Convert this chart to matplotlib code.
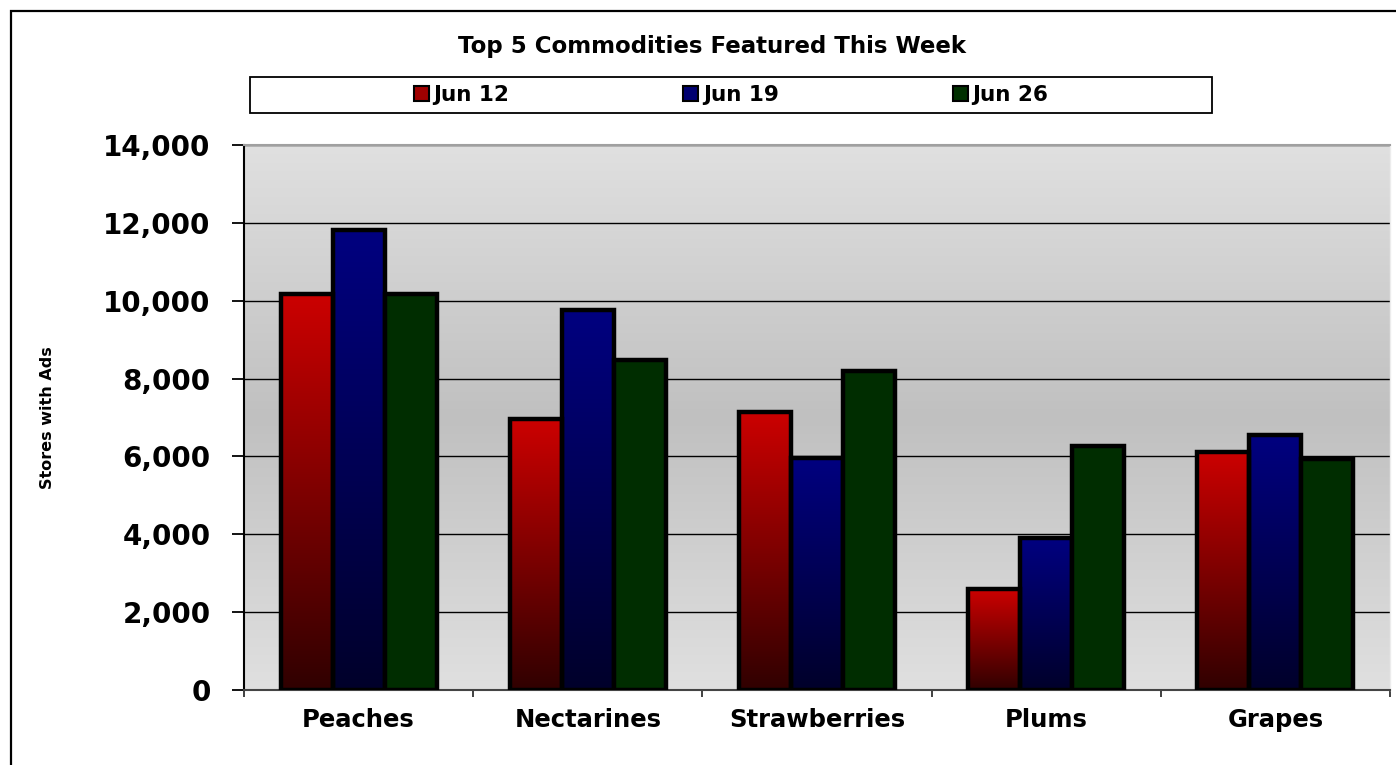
import matplotlib
matplotlib.use('Agg')
import matplotlib.pyplot as plt
import numpy as np
from matplotlib.colors import LinearSegmentedColormap
from matplotlib.patches import Rectangle, Patch

categories = ['Peaches', 'Nectarines', 'Strawberries', 'Plums', 'Grapes']
jun12 = [10170, 6960, 7140, 2590, 6110]
jun19 = [11820, 9760, 5960, 3900, 6560]
jun26 = [10170, 8480, 8200, 6270, 5930]
series_names = ['Jun 12', 'Jun 19', 'Jun 26']
yticks = [0, 2000, 4000, 6000, 8000, 10000, 12000, 14000]

W, H = 1396, 765
fig = plt.figure(figsize=(W / 100, H / 100), dpi=100)
ax = fig.add_axes([244 / W, 75 / H, 1146 / W, 545 / H])

# plot area background: light at top/bottom, darker in the middle
bg_cmap = LinearSegmentedColormap.from_list('bg', ['#e0e0e0', '#c0c0c0', '#e0e0e0'])
bg = np.linspace(0, 1, 256).reshape(-1, 1)
ax.imshow(bg, cmap=bg_cmap, extent=[0, 1, 0, 1], transform=ax.transAxes,
          aspect='auto', origin='lower', zorder=0)

x = np.arange(len(categories))
bw = 0.227


def grad_bars(xs, vals, top, bottom):
    cmap = LinearSegmentedColormap.from_list('g', [bottom, top])
    g = np.linspace(0, 1, 256).reshape(-1, 1)
    for xi, v in zip(xs, vals):
        ax.imshow(g, cmap=cmap, origin='lower', aspect='auto',
                  extent=[xi - bw / 2, xi + bw / 2, 0, v], zorder=2)
    ax.bar(xs, vals, bw, facecolor='none', edgecolor='black', lw=3.2, zorder=3)


grad_bars(x - bw, jun12, '#cc0000', '#300000')
grad_bars(x, jun19, '#000080', '#00002a')
ax.bar(x + bw, jun26, bw, facecolor='#002d00', edgecolor='black', lw=3.2, zorder=3)

ax.set_xlim(-0.5, len(categories) - 0.5)
ax.set_ylim(0, 14000)

ax.set_axisbelow(True)
ax.yaxis.grid(True, color='black', lw=1)
ax.set_yticks(yticks)
ax.set_yticklabels([f'{v:,}' for v in yticks], fontsize=20, fontweight='bold')
ax.tick_params(axis='y', direction='out', length=9, width=1.3, pad=15)

ax.set_xticks(np.arange(len(categories) + 1) - 0.5)
ax.set_xticklabels([])
ax.set_xticks(x, minor=True)
ax.set_xticklabels(categories, minor=True, fontsize=17.5, fontweight='bold')
ax.tick_params(axis='x', which='major', direction='out', length=5, width=1.3, color='#333333')
ax.tick_params(axis='x', which='minor', length=0, pad=13)

ax.spines['left'].set_color('black')
ax.spines['left'].set_linewidth(1.5)
ax.spines['bottom'].set_color('#444444')
ax.spines['bottom'].set_linewidth(1.5)
ax.spines['top'].set_color('#a0a0a0')
ax.spines['top'].set_linewidth(1.5)
ax.spines['right'].set_color('#ececec')
ax.spines['right'].set_linewidth(1.0)

fig.text(48 / W, 1 - 418 / H, 'Stores with Ads', rotation=90, ha='center', va='center',
         fontsize=11.5, fontweight='bold', family=['Liberation Sans Narrow', 'DejaVu Sans'])
fig.text(712 / W, 1 - 47 / H, 'Top 5 Commodities Featured This Week', ha='center', va='center',
         fontsize=16.5, fontweight='bold')

# legend
handles = [Patch(facecolor=c, edgecolor='black', lw=1.5) for c in ['#a00000', '#000070', '#003000']]
fig.legend(handles, series_names, loc='center', bbox_to_anchor=(731 / W, 1 - 95 / H),
           ncol=3, frameon=False, handlelength=0.7, handleheight=0.7,
           handletextpad=0.2, columnspacing=8.1, prop={'weight': 'bold', 'size': 15.5})
fig.add_artist(Rectangle((250 / W, 1 - 113 / H), 962 / W, 36 / H, transform=fig.transFigure,
                         fill=False, ec='black', lw=1.3))

# outer chart border (runs off right and bottom)
fig.add_artist(Rectangle((11 / W, -0.1), 1.2, 1 - 11 / H + 0.1, transform=fig.transFigure,
                         fill=False, ec='black', lw=1.6))

fig.savefig('out.png', dpi=100)
